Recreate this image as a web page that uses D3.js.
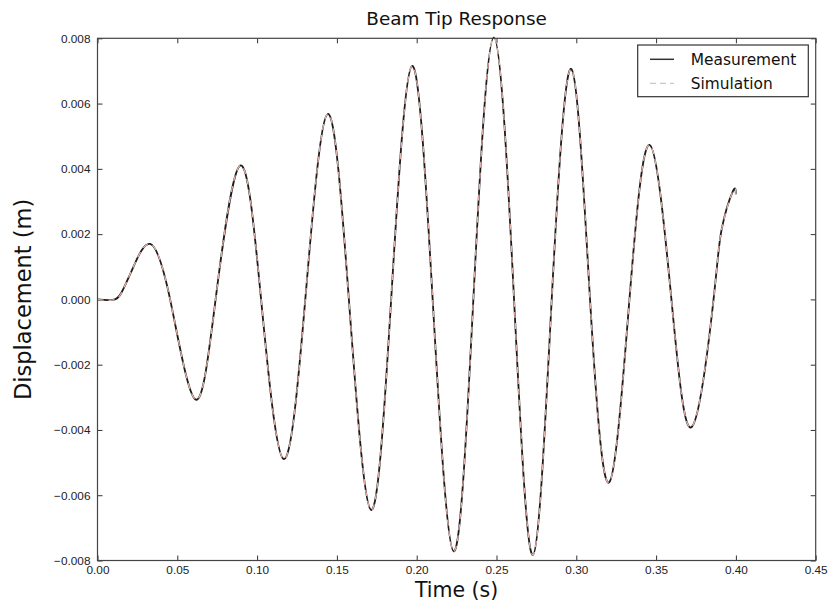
<!DOCTYPE html>
<html>
<head>
<meta charset="utf-8">
<script src="https://cdn.jsdelivr.net/npm/d3@7"></script>
<style>
  body { margin: 0; background: #fff; }
  svg { display: block; font-family: "DejaVu Sans", sans-serif; }
  .tick-label { font-size: 11.8px; fill: #222; }
</style>
</head>
<body>
<div id="chart"></div>
<script>
// time samples (s): extrema, zero crossings and the start ramp
const timeS = [0, 0.011, 0.0162, 0.0225, 0.033, 0.0455, 0.0612, 0.074,
  0.0894, 0.1025, 0.1166, 0.1302, 0.1442, 0.1575, 0.1714, 0.184, 0.1971, 0.21,
  0.2232, 0.2355, 0.2483, 0.261, 0.2728, 0.2846, 0.2969, 0.3086, 0.3205, 0.3333,
  0.346, 0.3596, 0.3723, 0.386, 0.391, 0.398, 0.4];
// measured tip displacement (m)
const measured = [0, 0, 0.00032, 0.0010, 0.0017, 0, -0.00306, 0,
  0.0041, 0, -0.00489, 0, 0.00568, 0, -0.00645, 0, 0.00715, 0,
  -0.00772, 0, 0.00802, 0, -0.00783, 0, 0.00706, 0, -0.00561, 0,
  0.00473, 0, -0.00391, 0, 0.00213, 0.0033, 0.00322];
// simulated displacement (m), indistinguishable from the measurement in the picture
const simulated = [0, 0, 0.00032, 0.0010, 0.0017, 0, -0.00306, 0,
  0.0041, 0, -0.00489, 0, 0.00568, 0, -0.00645, 0, 0.00715, 0,
  -0.00772, 0, 0.00802, 0, -0.00783, 0, 0.00706, 0, -0.00561, 0,
  0.00473, 0, -0.00391, 0, 0.00213, 0.0033, 0.00322];

const xTicks = [0, 0.05, 0.1, 0.15, 0.2, 0.25, 0.3, 0.35, 0.4, 0.45];
const yTicks = [-0.008, -0.006, -0.004, -0.002, 0, 0.002, 0.004, 0.006, 0.008];
const seriesNames = ['Measurement', 'Simulation'];

const width = 831, height = 602;
const margin = {top: 38.3, right: 15.3, bottom: 41.5, left: 97.5};
const innerW = width - margin.left - margin.right,
      innerH = height - margin.top - margin.bottom;

const svg = d3.select('#chart').append('svg')
  .attr('width', width)
  .attr('height', height);

const g = svg.append('g')
  .attr('transform', 'translate(' + margin.left + ',' + margin.top + ')');

const x = d3.scaleLinear().domain([0, 0.45]).range([0, innerW]);
const y = d3.scaleLinear().domain([-0.008, 0.008]).range([innerH, 0]);

const fmtMinus = s => s.replace('-', '\u2212');

// ticks point inwards on all four sides, like the old matplotlib default
const tickLen = 5;
const axes = g.append('g').attr('class', 'axes');
axes.append('g')
  .attr('transform', 'translate(0,' + innerH + ')')
  .call(d3.axisBottom(x).tickValues(xTicks).tickSizeInner(-tickLen).tickSizeOuter(0)
    .tickPadding(5).tickFormat(d3.format('.2f')));
axes.append('g')
  .call(d3.axisTop(x).tickValues(xTicks).tickSizeInner(-tickLen).tickSizeOuter(0)
    .tickFormat(''));
axes.append('g')
  .call(d3.axisLeft(y).tickValues(yTicks).tickSizeInner(-tickLen).tickSizeOuter(0)
    .tickPadding(7).tickFormat(d => fmtMinus(d3.format('.3f')(d))));
axes.append('g')
  .attr('transform', 'translate(' + innerW + ',0)')
  .call(d3.axisRight(y).tickValues(yTicks).tickSizeInner(-tickLen).tickSizeOuter(0)
    .tickFormat(''));

axes.selectAll('.domain').remove();
axes.selectAll('.tick line').attr('stroke', '#333').attr('stroke-width', 1);
axes.selectAll('.tick text')
  .attr('class', 'tick-label')
  .attr('font-family', null)
  .attr('font-size', null);

// the series
const line = (vals) => d3.line()
  .x((d, i) => x(timeS[i]))
  .y(d => y(d))
  .curve(d3.curveNatural)(vals);

g.append('path')
  .attr('d', line(measured))
  .attr('fill', 'none')
  .attr('stroke', '#1b1b1b')
  .attr('stroke-width', 1.8);

g.append('path')
  .attr('d', line(simulated))
  .attr('fill', 'none')
  .attr('stroke', '#e4b2a8')
  .attr('stroke-width', 1.3)
  .attr('stroke-dasharray', '6,5');

// frame
g.append('rect')
  .attr('width', innerW)
  .attr('height', innerH)
  .attr('fill', 'none')
  .attr('stroke', '#444')
  .attr('stroke-width', 1.2);

// titles
svg.append('text')
  .attr('x', margin.left + innerW / 2)
  .attr('y', 25)
  .attr('text-anchor', 'middle')
  .attr('font-size', 18.4)
  .attr('fill', '#111')
  .text('Beam Tip Response');

svg.append('text')
  .attr('x', margin.left + innerW / 2)
  .attr('y', 596.5)
  .attr('text-anchor', 'middle')
  .attr('font-size', 20.5)
  .attr('fill', '#111')
  .text('Time (s)');

svg.append('text')
  .attr('transform', 'translate(31,' + (margin.top + innerH / 2) + ') rotate(-90)')
  .attr('text-anchor', 'middle')
  .attr('font-size', 22.5)
  .attr('fill', '#111')
  .text('Displacement (m)');

// legend
const legend = svg.append('g').attr('transform', 'translate(637.7,45)');
legend.append('rect')
  .attr('width', 170.6)
  .attr('height', 51.7)
  .attr('fill', '#fff')
  .attr('stroke', '#333')
  .attr('stroke-width', 1.2);

const legendStyles = [
  {stroke: '#333', dash: null, width: 1.5},
  {stroke: '#d8c4c0', dash: '6,4', width: 1.3}
];
seriesNames.forEach((name, i) => {
  const cy = 14.3 + i * 24;
  legend.append('line')
    .attr('x1', 12.3).attr('x2', 36.3)
    .attr('y1', cy).attr('y2', cy)
    .attr('stroke', legendStyles[i].stroke)
    .attr('stroke-width', legendStyles[i].width)
    .attr('stroke-dasharray', legendStyles[i].dash);
  legend.append('text')
    .attr('x', 53)
    .attr('y', cy)
    .attr('dy', '0.36em')
    .attr('font-size', 15.4)
    .attr('fill', '#111')
    .text(name);
});
</script>
</body>
</html>
